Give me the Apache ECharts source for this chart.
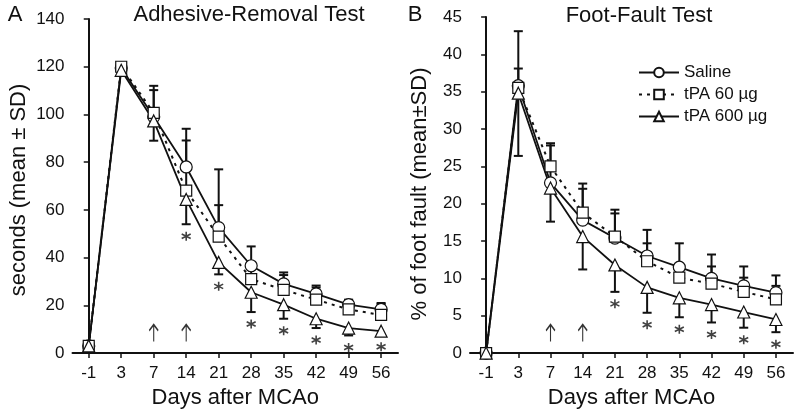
<!DOCTYPE html>
<html>
<head>
<meta charset="utf-8">
<script src="https://cdn.jsdelivr.net/npm/echarts@6/dist/echarts.min.js"></script>
<style>html,body{margin:0;padding:0;background:#fff}#c{width:800px;height:414px}</style>
</head>
<body>
<div id="c"></div>
<script>
// ---------- data ----------
const days = ['-1','3','7','14','21','28','35','42','49','56'];
const seriesNames = ['Saline','tPA 60 µg','tPA 600 µg'];

// Panel A: Adhesive-Removal Test (seconds)
const arSaline   = [3, 119.5, 99, 78, 52.6, 36.6, 29, 24.8, 20.3, 18.3];
const arSalineSD = [0, 0, 13, 16, 24.4, 8.1, 4.8, 3.5, 2.1, 2.7];
const arT60      = [3, 120, 100.7, 68.1, 48.8, 31, 26.5, 22.4, 18.3, 16];
const arT60SD    = [0, 0, 9.5, 21, 13.2, 5, 6.2, 5.1, 3.7, 4.5];
const arT600     = [3, 118.5, 97.3, 64.4, 38, 25.5, 20.3, 14.4, 10.5, 9.2];
const arT600SD   = [0, 0, 8.3, 10.4, 5, 8.3, 5.9, 3.9, 3.1, 1.5];
const arSigDays  = ['14','21','28','35','42','49','56'];
const arYTicks   = [0, 20, 40, 60, 80, 100, 120, 140];

// Panel B: Foot-Fault Test (% of foot fault)
const ffSaline   = [0, 35.8, 22.8, 17.8, 15.4, 13, 11.5, 10, 9, 8.1];
const ffSalineSD = [0, 7.3, 5.3, 4.9, 3.8, 3.5, 3.2, 3.2, 2.6, 2.3];
const ffT60      = [0, 35.5, 25, 18.8, 15.6, 12.3, 10.1, 9.3, 8.2, 7.2];
const ffT60SD    = [0, 2.6, 2.8, 3.2, 3.1, 2.4, 1.5, 2.3, 1.9, 1.8];
const ffT600     = [0, 34.8, 22.1, 15.6, 11.8, 8.8, 7.4, 6.5, 5.5, 4.5];
const ffT600SD   = [0, 8.4, 4.5, 4.4, 3.6, 3.4, 2.6, 2.4, 2.1, 1.7];
const ffSigDays  = ['21','28','35','42','49','56'];
const ffYTicks   = [0, 5, 10, 15, 20, 25, 30, 35, 40, 45];

const arrowDays = ['7','14'];

// ---------- helpers ----------
const INK = '#111';
const FONT = 'Liberation Sans, Arial, sans-serif';
const idx = d => days.indexOf(d);
const pts = arr => arr.map((v, i) => [i, v]);

function lineSeries(name, vals, symbol, dashed, ax) {
  return {
    type: 'line', name: name, xAxisIndex: ax, yAxisIndex: ax,
    data: pts(vals), symbol: symbol, symbolSize: symbol === 'rect' ? 11 : 12,
    showAllSymbol: true, z: 5,
    itemStyle: { color: '#fff', borderColor: INK, borderWidth: 1.2 },
    lineStyle: { color: INK, width: dashed ? 2 : 1.8, type: dashed ? [3, 5] : 'solid' },
    emphasis: { disabled: true }
  };
}

function errSeries(vals, sds, dir, ax) {
  return {
    type: 'custom', xAxisIndex: ax, yAxisIndex: ax, z: 2, silent: true,
    data: vals.map((v, i) => [i, v, v + dir * sds[i], sds[i]]),
    renderItem: function (params, api) {
      if (!api.value(3)) return;
      const a = api.coord([api.value(0), api.value(1)]);
      const b = api.coord([api.value(0), api.value(2)]);
      const st = { stroke: INK, lineWidth: 2 };
      return { type: 'group', children: [
        { type: 'line', shape: { x1: a[0], y1: a[1], x2: b[0], y2: b[1] }, style: st },
        { type: 'line', shape: { x1: b[0] - 4.5, y1: b[1], x2: b[0] + 4.5, y2: b[1] }, style: st }
      ]};
    }
  };
}

function sigSeries(sigDays, vals, sds, ax) {
  return {
    type: 'scatter', xAxisIndex: ax, yAxisIndex: ax, z: 6, silent: true,
    symbol: 'path://M5,0 L5,10 M0.67,2.5 L9.33,7.5 M0.67,7.5 L9.33,2.5',
    symbolSize: [9, 9], symbolOffset: [0, 12],
    itemStyle: { color: 'transparent', borderColor: INK, borderWidth: 1.6 },
    data: sigDays.map(d => [idx(d), vals[idx(d)] - sds[idx(d)]])
  };
}

function arrowSeries(ax) {
  return {
    type: 'scatter', xAxisIndex: ax, yAxisIndex: ax, z: 6, silent: true,
    symbol: 'path://M5,0 L5,20 M0,7 L5,0 L10,7', symbolSize: [9, 17],
    symbolOffset: [0, -20],
    itemStyle: { color: 'transparent', borderColor: '#000', borderWidth: 1.5 },
    data: arrowDays.map(d => [idx(d), 0])
  };
}

function xAxis(gi, min, max) {
  return {
    type: 'value', gridIndex: gi, min: min, max: max,
    axisLine: { show: true, lineStyle: { color: INK, width: 2 } },
    axisTick: { show: true, length: 5, lineStyle: { color: INK, width: 1.5 },
                customValues: days.map((d, i) => i) },
    axisLabel: { customValues: days.map((d, i) => i), formatter: v => days[Math.round(v)],
                 fontSize: 17, fontFamily: FONT, color: INK, margin: 12 },
    splitLine: { show: false },
    name: 'Days after MCAo', nameLocation: 'middle', nameGap: 24,
    nameTextStyle: { fontSize: 22, fontFamily: FONT, color: INK }
  };
}

function yAxis(gi, ticks) {
  return {
    type: 'value', gridIndex: gi, min: ticks[0], max: ticks[ticks.length - 1],
    interval: ticks[1] - ticks[0],
    axisLine: { show: true, lineStyle: { color: INK, width: 2 } },
    axisTick: { show: true, length: 5, lineStyle: { color: INK, width: 1.5 } },
    axisLabel: { fontSize: 17, fontFamily: FONT, color: INK, margin: 8 },
    splitLine: { show: false }
  };
}

function txt(text, x, y, size, rot) {
  return { type: 'text', x: x, y: y, rotation: rot || 0,
           style: { text: text, fill: INK, font: size + 'px ' + FONT,
                    textAlign: 'center', textVerticalAlign: 'middle', verticalAlign: 'middle' } };
}

const chart = echarts.init(document.getElementById('c'), null, { renderer: 'canvas' });
chart.setOption({
  animation: false,
  backgroundColor: '#fff',
  grid: [
    { left: 72.5, top: 19, width: 325.5, height: 335.5 },
    { left: 470, top: 17, width: 323, height: 337 }
  ],
  xAxis: [xAxis(0, -0.5, 9.52), xAxis(1, -0.5, 9.53)],
  yAxis: [yAxis(0, arYTicks), yAxis(1, ffYTicks)],
  legend: {
    data: seriesNames, orient: 'vertical', left: 633, top: 59,
    itemWidth: 40, itemHeight: 12, itemGap: 5, selectedMode: false,
    textStyle: { fontSize: 17, fontFamily: FONT, color: INK, lineHeight: 17 }
  },
  graphic: [
    txt('A', 15, 15, 22),
    txt('Adhesive-Removal Test', 249, 15, 22),
    txt('seconds (mean ± SD)', 19, 190, 22, Math.PI / 2),
    txt('B', 415, 15, 22),
    txt('Foot-Fault Test', 639, 15.5, 22),
    txt('% of foot fault (mean±SD)', 420, 194, 22, Math.PI / 2)
  ],
  series: [
    errSeries(arSaline, arSalineSD, 1, 0),
    errSeries(arT60, arT60SD, 1, 0),
    errSeries(arT600, arT600SD, -1, 0),
    lineSeries(seriesNames[0], arSaline, 'circle', false, 0),
    lineSeries(seriesNames[1], arT60, 'rect', true, 0),
    lineSeries(seriesNames[2], arT600, 'triangle', false, 0),
    sigSeries(arSigDays, arT600, arT600SD, 0),
    arrowSeries(0),
    errSeries(ffSaline, ffSalineSD, 1, 1),
    errSeries(ffT60, ffT60SD, 1, 1),
    errSeries(ffT600, ffT600SD, -1, 1),
    lineSeries(seriesNames[0], ffSaline, 'circle', false, 1),
    lineSeries(seriesNames[1], ffT60, 'rect', true, 1),
    lineSeries(seriesNames[2], ffT600, 'triangle', false, 1),
    sigSeries(ffSigDays, ffT600, ffT600SD, 1),
    arrowSeries(1)
  ]
});
</script>
</body>
</html>
